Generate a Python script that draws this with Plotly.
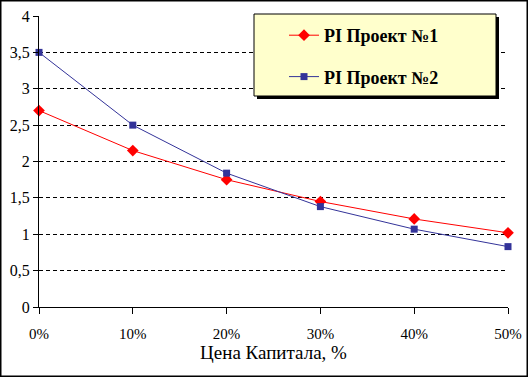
import plotly.graph_objects as go

rates = [0, 0.1, 0.2, 0.3, 0.4, 0.5]
pi1 = [2.7, 2.15, 1.75, 1.45, 1.21, 1.02]
pi2 = [3.5, 2.5, 1.84, 1.38, 1.07, 0.83]
name1 = "PI Проект №1"
name2 = "PI Проект №2"
y_ticks = [0, 0.5, 1, 1.5, 2, 2.5, 3, 3.5, 4]

W, H = 528, 377
L, R, T, B = 39, 20, 16, 70
pw, ph = W - L - R, H - T - B
FONT = "Liberation Serif, Times New Roman, Tinos, Liberation Sans, Arial, sans-serif"

def px(x):
    return (x - L) / pw

def py(y):
    return (H - B - y) / ph

fig = go.Figure()
fig.add_trace(go.Scatter(x=rates, y=pi1, name=name1, mode="lines+markers",
                         line=dict(color="#FF0000", width=1),
                         marker=dict(symbol="diamond", size=9, color="#FF0000"),
                         legendgroup="a", cliponaxis=False))
fig.add_trace(go.Scatter(x=rates, y=pi2, name=name2, mode="lines+markers",
                         line=dict(color="#333399", width=1),
                         marker=dict(symbol="square", size=7, color="#333399"),
                         legendgroup="b", cliponaxis=False))

shapes = [
    dict(type="rect", xref="paper", yref="paper", x0=px(257), x1=px(499), y0=py(99), y1=py(17),
         fillcolor="#000000", line=dict(width=0), layer="above"),
    dict(type="rect", xref="paper", yref="paper", x0=px(254), x1=px(496), y0=py(96), y1=py(14),
         fillcolor="#FFFFCC", line=dict(color="#000000", width=1), layer="above"),
    dict(type="rect", xref="paper", yref="paper", x0=px(0.75), x1=px(W - 0.75), y0=py(H - 0.75), y1=py(0.75),
         line=dict(color="#000000", width=1.5), fillcolor="rgba(0,0,0,0)", layer="above"),
]

fig.update_layout(
    width=W, height=H,
    margin=dict(l=L, r=R, t=T, b=B, autoexpand=False),
    paper_bgcolor="white", plot_bgcolor="white",
    separators=",.",
    font=dict(family=FONT, size=16, color="black"),
    shapes=shapes,
    showlegend=True,
    legend=dict(x=px(284), y=py(17), xanchor="left", yanchor="top",
                bgcolor="rgba(0,0,0,0)", borderwidth=0,
                font=dict(size=18, family=FONT, weight="bold"),
                traceorder="grouped", tracegroupgap=15, itemwidth=30),
    xaxis=dict(range=[0, 0.5], tickvals=rates, tickformat=".0%",
               showgrid=False, zeroline=False, automargin=False,
               showline=True, linecolor="black", linewidth=1,
               ticks="outside", ticklen=6, tickcolor="black",
               ticklabelstandoff=7,
               tickfont=dict(family=FONT, size=15),
               title=dict(text="Цена Капитала, %", font=dict(size=19, family=FONT), standoff=4)),
    yaxis=dict(range=[0, 4], tickvals=y_ticks, automargin=False,
               showgrid=True, gridcolor="black", griddash="4px,3px", gridwidth=1,
               zeroline=False,
               showline=True, linecolor="black", linewidth=1,
               ticks="outside", ticklen=5, tickcolor="black",
               tickfont=dict(size=16, family=FONT)),
)

fig.write_html("out.html", config={"displayModeBar": False},
               post_script="document.body.style.margin='0';document.body.style.overflow='hidden';")
